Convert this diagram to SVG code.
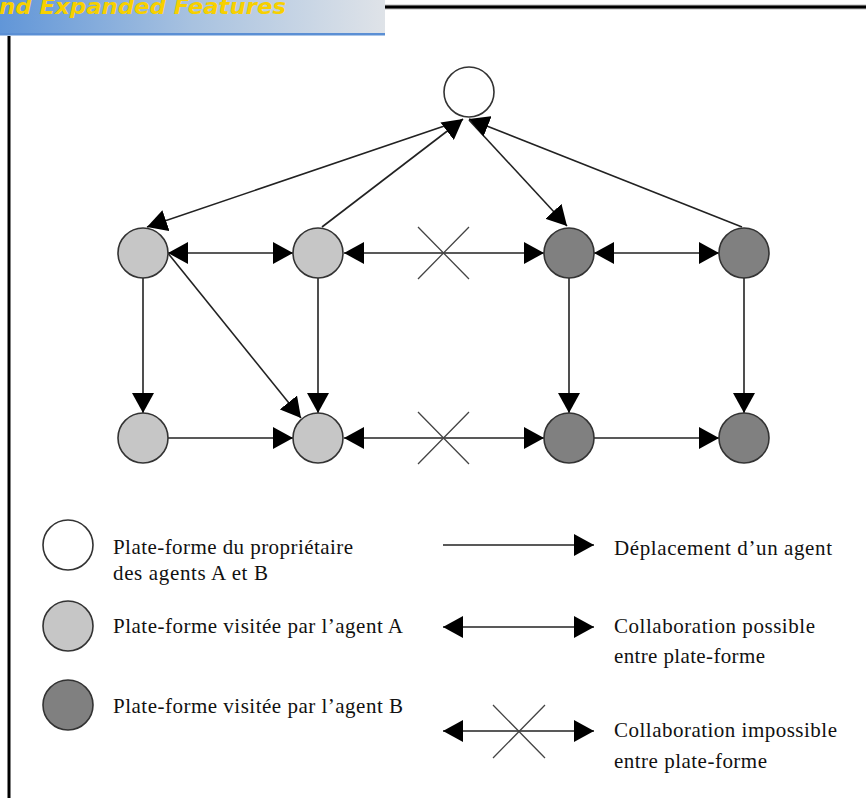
<svg xmlns="http://www.w3.org/2000/svg" width="866" height="798" viewBox="0 0 866 798">
  <defs>
    <linearGradient id="bannerGrad" x1="0" y1="0" x2="1" y2="0">
      <stop offset="0" stop-color="#6196d8"/>
      <stop offset="0.5" stop-color="#a8c2e0"/>
      <stop offset="1" stop-color="#dfe3e8"/>
    </linearGradient>
    <marker id="head" viewBox="0 0 20 22" refX="20" refY="11" markerWidth="20" markerHeight="22" markerUnits="userSpaceOnUse" orient="auto-start-reverse">
      <path d="M0,0 L20,11 L0,22 Z" fill="#000"/>
    </marker>
    <style>
      .node { stroke: #333; stroke-width: 1.6; }
      .home { fill: #ffffff; }
      .visA { fill: #c6c6c6; }
      .visB { fill: #808080; }
      .edge { stroke: #222; stroke-width: 1.6; fill: none; }
      .move { marker-end: url(#head); }
      .both { marker-start: url(#head); marker-end: url(#head); }
      .cross { stroke: #444; stroke-width: 1.3; }
      .lbl { font-family: "Liberation Serif", "Times New Roman", serif; font-size: 21px; fill: #111; }
      .title { font-family: "DejaVu Sans", "Liberation Sans", sans-serif; font-size: 22px; font-weight: bold; font-style: italic; fill: #f7d000; }
    </style>
  </defs>

  <rect width="866" height="798" fill="#ffffff"/>

  <!-- header banner and frame -->
  <g id="banner">
    <rect x="0" y="0" width="385" height="34" fill="url(#bannerGrad)"/>
    <rect x="0" y="33" width="385" height="2.5" fill="#5b8fd4"/>
    <text class="title" x="-1" y="14" textLength="287" lengthAdjust="spacingAndGlyphs">nd Expanded Features</text>
  </g>
  <g id="frame">
    <line x1="385" y1="7" x2="866" y2="7" stroke="#bbb" stroke-width="5"/>
    <line x1="385" y1="7" x2="866" y2="7" stroke="#000" stroke-width="3"/>
    <line x1="9" y1="36" x2="9" y2="798" stroke="#000" stroke-width="3"/>
  </g>

  <!-- connectors -->
  <g id="connectors">
    <line class="edge move" x1="462" y1="120" x2="147" y2="227"/>
    <line class="edge move" x1="322" y1="227" x2="463" y2="119"/>
    <line class="edge move" x1="469" y1="120" x2="567" y2="226"/>
    <line class="edge move" x1="742" y1="227" x2="469" y2="119"/>

    <line class="edge both" x1="168" y1="253" x2="293" y2="253"/>
    <line class="edge both" x1="344" y1="253" x2="544" y2="253"/>
    <line class="edge both" x1="594" y1="253" x2="719" y2="253"/>

    <line class="edge move" x1="143" y1="278" x2="143" y2="413"/>
    <line class="edge move" x1="318" y1="278" x2="318" y2="413"/>
    <line class="edge move" x1="569" y1="278" x2="569" y2="413"/>
    <line class="edge move" x1="744" y1="278" x2="744" y2="413"/>
    <line class="edge move" x1="167" y1="252" x2="301" y2="418"/>

    <line class="edge move" x1="168" y1="438" x2="293" y2="438"/>
    <line class="edge both" x1="344" y1="438" x2="544" y2="438"/>
    <line class="edge move" x1="594" y1="438" x2="719" y2="438"/>

    <path class="cross" d="M418,227 L469,279 M469,227 L418,279"/>
    <path class="cross" d="M418,412 L469,464 M469,412 L418,464"/>
  </g>

  <!-- platforms -->
  <g id="home"><circle class="node home" cx="469" cy="92" r="25"/></g>
  <g id="a1"><circle class="node visA" cx="143" cy="253" r="25"/></g>
  <g id="a2"><circle class="node visA" cx="318" cy="253" r="25"/></g>
  <g id="b1"><circle class="node visB" cx="569" cy="253" r="25"/></g>
  <g id="b2"><circle class="node visB" cx="744" cy="253" r="25"/></g>
  <g id="a3"><circle class="node visA" cx="143" cy="438" r="25"/></g>
  <g id="a4"><circle class="node visA" cx="318" cy="438" r="25"/></g>
  <g id="b3"><circle class="node visB" cx="569" cy="438" r="25"/></g>
  <g id="b4"><circle class="node visB" cx="744" cy="438" r="25"/></g>

  <!-- legend -->
  <g id="legend-home">
    <circle class="node home" cx="68" cy="545" r="25"/>
    <text class="lbl" x="113" y="554" textLength="240">Plate-forme du propriétaire</text>
    <text class="lbl" x="113" y="580" textLength="155">des agents A et B</text>
  </g>
  <g id="legend-a">
    <circle class="node visA" cx="68" cy="626" r="25"/>
    <text class="lbl" x="113" y="633" textLength="290">Plate-forme visitée par l’agent A</text>
  </g>
  <g id="legend-b">
    <circle class="node visB" cx="68" cy="705" r="25"/>
    <text class="lbl" x="113" y="713" textLength="290">Plate-forme visitée par l’agent B</text>
  </g>
  <g id="legend-move">
    <line class="edge move" x1="443" y1="545" x2="594" y2="545"/>
    <text class="lbl" x="614" y="555" textLength="218">Déplacement d’un agent</text>
  </g>
  <g id="legend-possible">
    <line class="edge both" x1="443" y1="627" x2="594" y2="627"/>
    <text class="lbl" x="614" y="633" textLength="201">Collaboration possible</text>
    <text class="lbl" x="614" y="663" textLength="151">entre plate-forme</text>
  </g>
  <g id="legend-impossible">
    <line class="edge both" x1="443" y1="731" x2="594" y2="731"/>
    <path class="cross" d="M493,705 L545,758 M545,705 L493,758"/>
    <text class="lbl" x="614" y="737" textLength="223">Collaboration impossible</text>
    <text class="lbl" x="614" y="768" textLength="153">entre plate-forme</text>
  </g>
</svg>
